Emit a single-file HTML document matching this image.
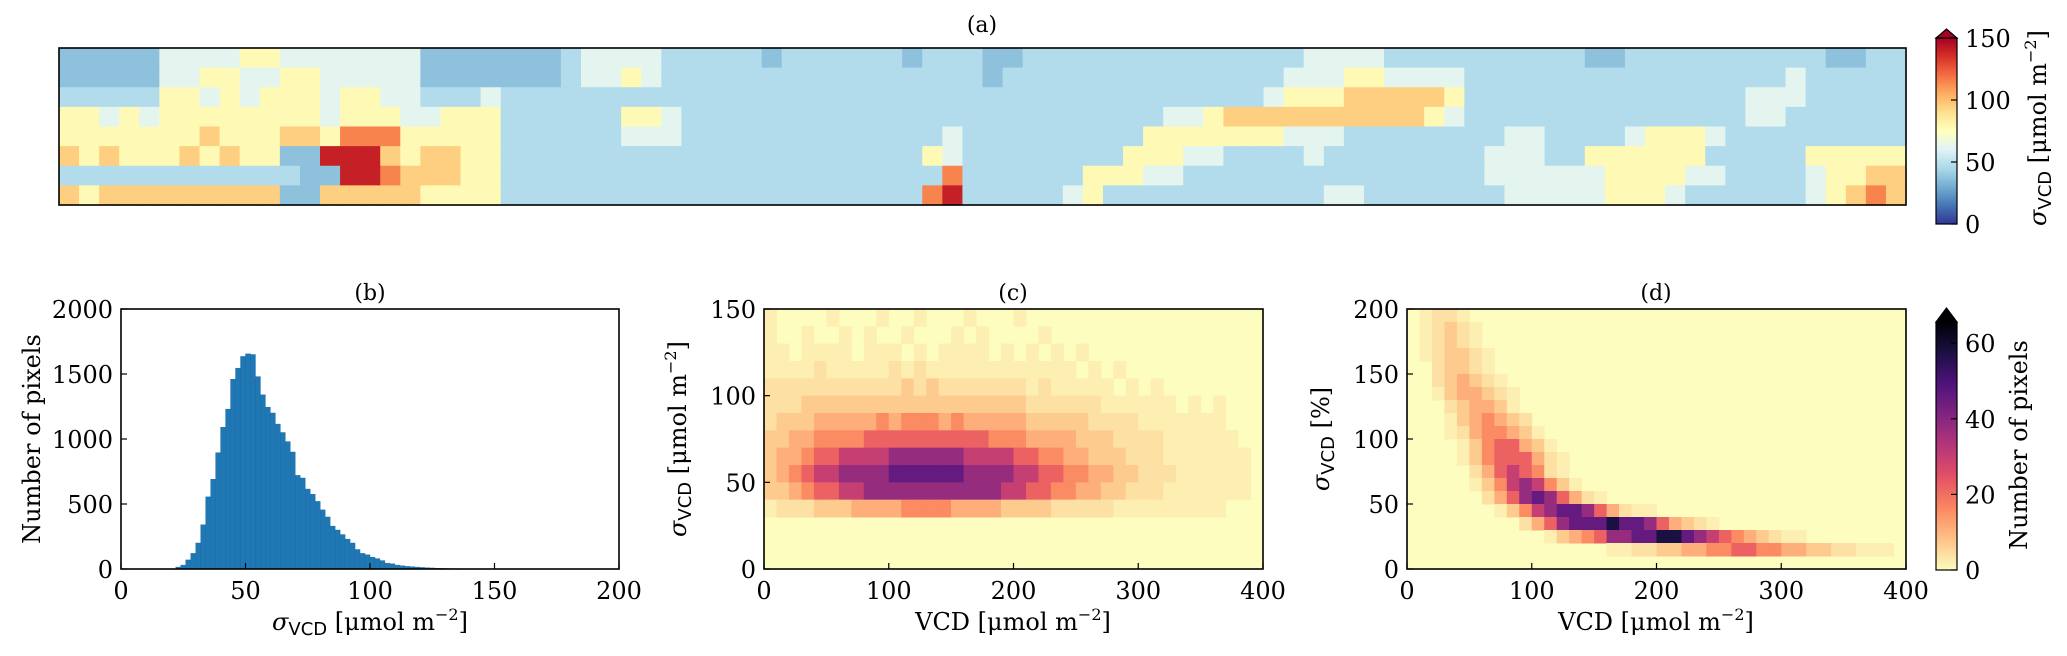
<!DOCTYPE html>
<html><head><meta charset="utf-8"><style>
html,body{margin:0;padding:0;background:#fff;}
svg{display:block;font-family:"DejaVu Serif","Liberation Serif",serif;}
</style></head><body>
<svg id="fig" width="2067" height="656" viewBox="0 0 2067 656" xmlns="http://www.w3.org/2000/svg">
<defs>
<linearGradient id="gradA" x1="0" y1="1" x2="0" y2="0"></linearGradient>
<linearGradient id="gradD" x1="0" y1="1" x2="0" y2="0"></linearGradient>
</defs>
<g id="layerA"></g>
<g id="layerB"></g>
<g id="layerC"></g>
<g id="layerD"></g>
<g id="layerT"></g>
</svg>
<script>
// ---------- data ----------
// panel (a): sigma VCD map, coarse levels (0-9) per row
const mapRows = [
"33333"+"5555665555555"+"3333333"+"4555544"+"44434444443444"+"3344444444444444555544444444443344444444443344",
"33333"+"5566556655555"+"3333333"+"4556544"+"44444444444444"+"3444444444444445556655554444444444444444544444",
"44444"+"6656566656655"+"4445444"+"4444444"+"44444444444444"+"4444444444444456667777764444444444444455544444",
"66565"+"6666666656665"+"5666444"+"4446654"+"44444444444444"+"4444444445567777777777654444444444444455444444",
"66666"+"6676667768886"+"6666444"+"4445554"+"44444444444454"+"4444444466666665554444444455444456665444444444",
"76766"+"6767663399976"+"7766444"+"4444444"+"44444444444654"+"4444444666554444544444444555446666664444466666",
"44444"+"4444444339987"+"7766444"+"4444444"+"44444444444484"+"4444466655444444444444444555555666655444456677",
"76777"+"7777773377777"+"6666444"+"4444444"+"44444444444894"+"4444564444444444455444444455555666544444456787"
];
const mapLevelValues = [10,22,30,37,47,62,78,95,115,140];
const mapCols = 92;

// panel (b): histogram
const histStart = 22;
const histWidth = 2;
const histCounts = [15,30,70,120,200,340,555,690,895,1090,1230,1460,1545,1635,1655,1650,1480,1340,1245,1200,1115,1050,980,900,720,700,615,575,520,455,400,330,300,265,230,200,150,120,110,90,80,65,45,40,30,25,20,18,15,12,10,8,6,5,4,3,3,2,2,2,1,1,1];
const histXTicks = [0,50,100,150,200];
const histYTicks = [0,500,1000,1500,2000];

// panel (c): rows from sigma 150 (top) down to 0, 10-unit bins, cols VCD 0..400
const cRows = [
"1000010001001000100010000000000000000000",
"1001001010010001010000100000000000000000",
"1101111011101011110101010100000000000000",
"1111211111212111111111111010100000000000",
"2222222222232322222221211111010100000000",
"2223333333333333333332222221111110101000",
"2333444445455545444443333322221111111000",
"3344555566666666665554444333222211111100",
"3445667777888888777766554433322211111110",
"3456778888999999888877665544332221111110",
"3345667788888888888776655443322211111110",
"1222333444455554444333322222111111111000",
"0000000000000000000000000000000000000000",
"0000000000000000000000000000000000000000",
"0000000000000000000000000000000000000000"
];
const cXTicks = [0,100,200,300,400];
const cYTicks = [0,50,100,150];

// panel (d): rows from sigma 200% (top) down to 0
const dRows = [
"0122100000000000000000000000000000000000",
"0123210000000000000000000000000000000000",
"0123210000000000000000000000000000000000",
"0123321000000000000000000000000000000000",
"0023321000000000000000000000000000000000",
"0023432100000000000000000000000000000000",
"0013443210000000000000000000000000000000",
"0002344310000000000000000000000000000000",
"0001345432000000000000000000000000000000",
"0001245543100000000000000000000000000000",
"0000135664310000000000000000000000000000",
"0000135666421000000000000000000000000000",
"0000024676521000000000000000000000000000",
"0000013578753100000000000000000000000000",
"0000002468986421000000000000000000000000",
"0000000135789986421100000000000000000000",
"0000000002468999a99864321000000000000000",
"00000000000134568899aa987654321100000000",
"0000000000000000112233445566554433221110",
"0000000000000000000000000000000000000000"
];
const dXTicks = [0,100,200,300,400];
const dYTicks = [0,50,100,150,200];
const countCodes = {"0":0,"1":2,"2":4,"3":7,"4":11,"5":16,"6":22,"7":30,"8":38,"9":46,"a":58};
const cbATicks = [0,50,100,150];
const cbDTicks = [0,20,40,60];

// ---------- helpers ----------
const NS = "http://www.w3.org/2000/svg";
function mk(tag, attrs, parent){const e=document.createElementNS(NS,tag);for(const k in attrs)e.setAttribute(k,attrs[k]);parent.appendChild(e);return e;}
function hex(h){return [parseInt(h.slice(1,3),16),parseInt(h.slice(3,5),16),parseInt(h.slice(5,7),16)];}
function cmap(stops,t){t=Math.max(0,Math.min(1,t));const n=stops.length-1;const i=Math.min(n-1,Math.floor(t*n));const f=t*n-i;const a=hex(stops[i]),b=hex(stops[i+1]);return "rgb("+a.map((v,k)=>Math.round(v+(b[k]-v)*f)).join(",")+")";}
const RDYLBU=["#313695","#4575b4","#74add1","#abd9e9","#e0f3f8","#ffffbf","#fee090","#fdae61","#f46d43","#d73027","#a50026"];
const MAGMAR=["#fcfdbf","#fec287","#fb8761","#e55064","#b5367a","#812581","#4f127b","#1c1044","#000004"];
const svg=document.getElementById("fig");
const FS=24;

for(let i=0;i<=20;i++){mk("stop",{offset:i/20,"stop-color":cmap(RDYLBU,i/20)},document.getElementById("gradA"));mk("stop",{offset:i/20,"stop-color":cmap(MAGMAR,i/20)},document.getElementById("gradD"));}

function axesFrame(g,x0,y0,x1,y1,name){
  const r=mk("rect",{x:x0,y:y0,width:x1-x0,height:y1-y0,fill:"none",stroke:"#000","stroke-width":1.6},g);
  
  
}
function xTicks(g,ticks,sx,y1,name){
  ticks.forEach(v=>{const x=sx(v);
    mk("line",{x1:x,y1:y1,x2:x,y2:y1-6,stroke:"#000","stroke-width":1.2},g);
    const t=mk("text",{x:x,y:y1+30,"font-size":FS,"text-anchor":"middle"},g);t.textContent=v;
    
    
  });
}
function yTicks(g,ticks,sy,x0,name){
  ticks.forEach(v=>{const y=sy(v);
    mk("line",{x1:x0,y1:y,x2:x0+6,y2:y,stroke:"#000","stroke-width":1.2},g);
    const t=mk("text",{x:x0-8,y:y+9,"font-size":FS,"text-anchor":"end"},g);t.textContent=v;
    
    
  });
}
function sigmaLabel(g,x,y,rot,unit,name){
  const t=mk("text",{x:x,y:y,"font-size":FS,"text-anchor":"middle",transform:rot?("rotate(-90 "+x+" "+y+")"):""},g);
  
  
  t.innerHTML='<tspan font-style="italic">σ</tspan><tspan font-family="DejaVu Sans, Liberation Sans, sans-serif" font-size="18" dy="5">VCD</tspan><tspan dy="-5"> '+unit+'</tspan>';
  return t;
}
function unitHtml(){return '[μmol m<tspan font-size="16" dy="-10">−2</tspan><tspan dy="10">]</tspan>';}

// ---------- panel (a) ----------
const gA=document.getElementById("layerA");
const ax0=59,ay0=48,ax1=1906,ay1=205;
const cw=(ax1-ax0)/mapCols,ch=(ay1-ay0)/mapRows.length;
mapRows.forEach((row,r)=>{for(let c=0;c<mapCols;c++){const lv=parseInt(row[c]||"4");const v=mapLevelValues[lv];
  const cell=mk("rect",{x:ax0+c*cw,y:ay0+r*ch,width:cw+0.6,height:ch+0.6,fill:cmap(RDYLBU,v/150)},gA);
  
  
}});
axesFrame(gA,ax0,ay0,ax1,ay1,"panel-a-frame");
const cbA=mk("rect",{x:1936,y:38,width:21,height:186,fill:"url(#gradA)",stroke:"#000","stroke-width":1.2},gA);


const triA=mk("polygon",{points:"1936,38 1957,38 1946.5,29",fill:"#a50026",stroke:"#000","stroke-width":1.2},gA);


cbATicks.forEach(v=>{const y=224-v*186/150;mk("line",{x1:1951,y1:y,x2:1957,y2:y,stroke:"#000","stroke-width":1.2},gA);
  const t=mk("text",{x:1965,y:y+9,"font-size":FS},gA);t.textContent=v;
  
  });
sigmaLabel(gA,2046,128,true,unitHtml(),"colorbar-a-label");

// ---------- panel (b) ----------
const gB=document.getElementById("layerB");
const bx0=121,bx1=619,by0=309,by1=569;
const bsx=v=>bx0+v*(bx1-bx0)/200, bsy=c=>by1-c*(by1-by0)/2000;
histCounts.forEach((c,i)=>{const x=bsx(histStart+i*histWidth);const w=bsx(histStart+(i+1)*histWidth)-x;
  const bar=mk("rect",{x:x,y:bsy(c),width:w,height:by1-bsy(c),fill:"#1f77b4",stroke:"#1a6aa3","stroke-width":0.4},gB);
  
  });
axesFrame(gB,bx0,by0,bx1,by1,"panel-b-frame");
xTicks(gB,histXTicks,bsx,by1,"b-x");
yTicks(gB,histYTicks,bsy,bx0,"b-y");
sigmaLabel(gB,370,630,false,unitHtml(),"b-x-axis-title");
const byl=mk("text",{x:40,y:439,"font-size":FS,"text-anchor":"middle",transform:"rotate(-90 40 439)"},gB);byl.textContent="Number of pixels";



// ---------- panel (c) ----------
const gC=document.getElementById("layerC");
const cx0=764,cx1=1263,cy0=309,cy1=569;
const csx=v=>cx0+v*(cx1-cx0)/400, csy=v=>cy1-v*(cy1-cy0)/150;
mk("rect",{x:cx0,y:cy0,width:cx1-cx0,height:cy1-cy0,fill:cmap(MAGMAR,0)},gC);
cRows.forEach((row,r)=>{const sTop=150-r*10;for(let c=0;c<40;c++){const n=countCodes[row[c]||"0"];if(!n)continue;
  const x=csx(c*10),y=csy(sTop);
  const cell=mk("rect",{x:x,y:y,width:csx(c*10+10)-x+0.5,height:csy(sTop-10)-y+0.5,fill:cmap(MAGMAR,n/66)},gC);
  
  }});
axesFrame(gC,cx0,cy0,cx1,cy1,"panel-c-frame");
xTicks(gC,cXTicks,csx,cy1,"c-x");
yTicks(gC,cYTicks,csy,cx0,"c-y");
const cxl=mk("text",{x:1013,y:630,"font-size":FS,"text-anchor":"middle"},gC);cxl.innerHTML='VCD '+unitHtml();


sigmaLabel(gC,686,439,true,unitHtml(),"c-y-axis-title");

// ---------- panel (d) ----------
const gD=document.getElementById("layerD");
const dx0=1407,dx1=1906,dy0=309,dy1=569;
const dsx=v=>dx0+v*(dx1-dx0)/400, dsy=v=>dy1-v*(dy1-dy0)/200;
mk("rect",{x:dx0,y:dy0,width:dx1-dx0,height:dy1-dy0,fill:cmap(MAGMAR,0)},gD);
dRows.forEach((row,r)=>{const sTop=200-r*10;for(let c=0;c<40;c++){const n=countCodes[row[c]||"0"];if(!n)continue;
  const x=dsx(c*10),y=dsy(sTop);
  const cell=mk("rect",{x:x,y:y,width:dsx(c*10+10)-x+0.5,height:dsy(sTop-10)-y+0.5,fill:cmap(MAGMAR,n/66)},gD);
  
  }});
axesFrame(gD,dx0,dy0,dx1,dy1,"panel-d-frame");
xTicks(gD,dXTicks,dsx,dy1,"d-x");
yTicks(gD,dYTicks,dsy,dx0,"d-y");
const dxl=mk("text",{x:1656,y:630,"font-size":FS,"text-anchor":"middle"},gD);dxl.innerHTML='VCD '+unitHtml();


sigmaLabel(gD,1329,439,true,"[%]","d-y-axis-title");
const cbD=mk("rect",{x:1936,y:322,width:21,height:248,fill:"url(#gradD)",stroke:"#000","stroke-width":1.2},gD);


const triD=mk("polygon",{points:"1936,322 1957,322 1946.5,308",fill:"#000004",stroke:"#000","stroke-width":1.2},gD);


cbDTicks.forEach(v=>{const y=570-v*248/65.6;mk("line",{x1:1951,y1:y,x2:1957,y2:y,stroke:"#000","stroke-width":1.2},gD);
  const t=mk("text",{x:1965,y:y+9,"font-size":FS},gD);t.textContent=v;
  
  });
const cbDL=mk("text",{x:2027,y:445,"font-size":FS,"text-anchor":"middle",transform:"rotate(-90 2027 445)"},gD);cbDL.textContent="Number of pixels";



// ---------- titles ----------
const gT=document.getElementById("layerT");
[["(a)",982,32,"title-a"],["(b)",370,300,"title-b"],["(c)",1013,300,"title-c"],["(d)",1656,300,"title-d"]].forEach(([s,x,y,n])=>{
  const t=mk("text",{x:x,y:y,"font-size":22,"text-anchor":"middle"},gT);t.textContent=s;
  
  });
</script>
</body></html>
